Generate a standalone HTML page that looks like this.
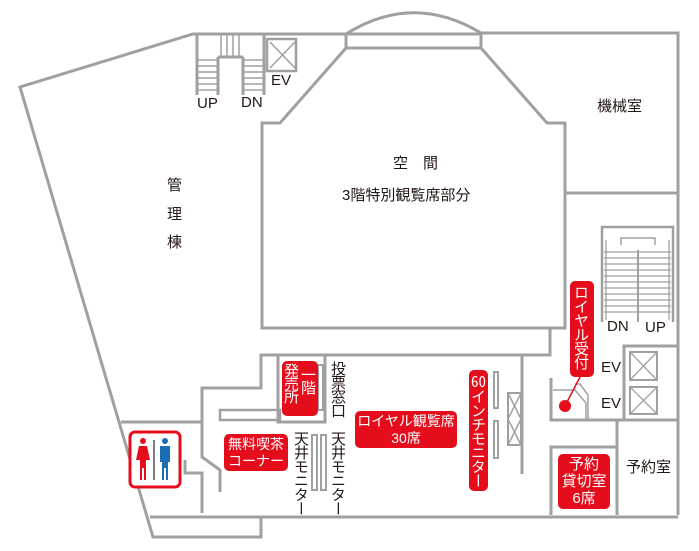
<!DOCTYPE html>
<html><head><meta charset="utf-8"><style>
body{margin:0;width:699px;height:551px;overflow:hidden;background:#fff;position:relative;font-family:"Liberation Sans","Noto Sans CJK JP",sans-serif;color:#231815}
svg{position:absolute;left:0;top:0}
.t{position:absolute;font-size:15px;line-height:1;white-space:nowrap}
.v{writing-mode:vertical-rl;text-orientation:upright;font-family:"Noto Sans CJK JP",sans-serif;font-size:15px;line-height:1;position:absolute;letter-spacing:-1px}
.r{position:absolute;background:#e50d1c;color:#fff;border-radius:5px;font-size:15px;line-height:17px;text-align:center;white-space:nowrap;font-family:"Liberation Sans","Noto Sans CJK JP",sans-serif}
.tcy{text-combine-upright:all}
</style></head><body>
<svg width="699" height="551" viewBox="0 0 699 551" fill="none" stroke="#a0a0a0" stroke-width="3">
<polyline points="346,34 193,34 20,87 153,537 261,537 261,517"/>
<line x1="150" y1="517" x2="678" y2="517"/>
<polyline points="121,422 202,422"/>
<polyline points="202,513 202,473 185,473 185,460"/>
<polyline points="220,492 220,470 202,457 202,388 261,388 261,355 550,355 550,328"/>
<rect x="220" y="410" width="60" height="10" stroke-width="2.5"/>
<rect x="278" y="355" width="47" height="67"/>
<rect x="318" y="365" width="5" height="45" stroke-width="2"/>
<rect x="312" y="435" width="5" height="55" stroke-width="2"/>
<rect x="321" y="435" width="5" height="55" stroke-width="2"/>
<line x1="522" y1="355" x2="522" y2="474"/>
<rect x="494" y="372" width="4" height="36" stroke-width="2"/>
<rect x="494" y="421" width="4" height="37" stroke-width="2"/>
<rect x="508" y="393" width="13" height="52" stroke-width="2"/>
<polyline points="508,393 521,419 508,445" stroke-width="1.5"/><polyline points="521,393 508,419 521,445" stroke-width="1.5"/>
<line x1="197" y1="34" x2="197" y2="95"/><line x1="218" y1="57" x2="218" y2="95"/>
<line x1="218" y1="57" x2="243" y2="57"/>
<line x1="243" y1="57" x2="243" y2="95"/><line x1="264" y1="34" x2="264" y2="95"/>
<g stroke-width="1.5"><line x1="221" y1="34" x2="221" y2="57"/><line x1="227" y1="34" x2="227" y2="57"/><line x1="233" y1="34" x2="233" y2="57"/><line x1="239" y1="34" x2="239" y2="57"/>
<line x1="197" y1="60" x2="218" y2="60"/><line x1="197" y1="66" x2="218" y2="66"/><line x1="197" y1="72" x2="218" y2="72"/><line x1="197" y1="78" x2="218" y2="78"/><line x1="197" y1="84" x2="218" y2="84"/><line x1="197" y1="90" x2="218" y2="90"/>
<line x1="243" y1="60" x2="264" y2="60"/><line x1="243" y1="66" x2="264" y2="66"/><line x1="243" y1="72" x2="264" y2="72"/><line x1="243" y1="78" x2="264" y2="78"/><line x1="243" y1="84" x2="264" y2="84"/><line x1="243" y1="90" x2="264" y2="90"/>
<line x1="270" y1="42" x2="295" y2="68"/><line x1="295" y1="42" x2="270" y2="68"/></g>
<rect x="267" y="39" width="29" height="32" stroke-width="2.5"/>
<path d="M346,34 Q413,-8 481,33"/>
<rect x="346" y="34" width="135" height="14"/>
<polyline points="346,48 280,123 262,123 262,328 565,328 565,123 547,123 481,48"/>
<polyline points="481,33 678,33 678,515"/>
<line x1="565" y1="193" x2="678" y2="193"/>
<polyline points="602,322 602,227 673,227 673,322" stroke-width="2.5"/>
<polyline points="621,245 621,238 655,238 655,245" stroke-width="1.5"/>
<line x1="638" y1="250" x2="638" y2="322" stroke-width="2"/>
<g stroke-width="1.3">
<line x1="604" y1="252" x2="671" y2="252"/><line x1="604" y1="258" x2="671" y2="258"/><line x1="604" y1="264" x2="671" y2="264"/><line x1="604" y1="270" x2="671" y2="270"/><line x1="604" y1="276" x2="671" y2="276"/><line x1="604" y1="282" x2="671" y2="282"/><line x1="604" y1="288" x2="671" y2="288"/><line x1="604" y1="294" x2="671" y2="294"/><line x1="604" y1="300" x2="671" y2="300"/><line x1="604" y1="306" x2="671" y2="306"/><line x1="604" y1="312" x2="671" y2="312"/>
<line x1="606" y1="240" x2="606" y2="320"/><line x1="669" y1="240" x2="669" y2="320"/></g>
<polyline points="624,420 624,346 678,346"/>
<rect x="630" y="352" width="27" height="28" stroke-width="2"/><rect x="630" y="387" width="27" height="27" stroke-width="2"/>
<g stroke-width="1.3"><line x1="630" y1="352" x2="657" y2="380"/><line x1="657" y1="352" x2="630" y2="380"/><line x1="630" y1="387" x2="657" y2="414"/><line x1="657" y1="387" x2="630" y2="414"/></g>
<polyline points="551,378 551,420 678,420"/>
<polyline points="553,390 575,390 586,403 586,420" stroke-width="1.5"/>
<polyline points="575,384 580,384 588,395 588,420" stroke-width="1.5"/>
<polyline points="617,420 617,515"/>
<polyline points="551,515 551,447 617,447"/>
<rect x="130" y="432" width="50" height="55" rx="5" stroke="#e50d1c" stroke-width="3" fill="#fff"/>
<line x1="154" y1="440" x2="154" y2="480" stroke="#555" stroke-width="1.5"/>
<g stroke="none"><circle cx="143" cy="441" r="3" fill="#e50d1c"/><path d="M139,446h8l3,14h-4v20h-2v-12h-2v12h-2v-20h-4z" fill="#e50d1c"/>
<circle cx="165" cy="441" r="3" fill="#1d6db5"/><path d="M160,446h10v16h-2v18h-2v-12h-2v12h-2v-18h-2z" fill="#1d6db5"/></g>
<line x1="580" y1="377" x2="566" y2="404" stroke="#e50d1c" stroke-width="1.5"/>
<circle cx="565" cy="406" r="6" fill="#e50d1c" stroke="none"/>
</svg>
<div class="t" style="left:197px;top:96px">UP</div>
<div class="t" style="left:241px;top:95px">DN</div>
<div class="t" style="left:271px;top:73px">EV</div>
<div class="t" style="left:393px;top:156px">空　間</div>
<div class="t" style="left:342px;top:188px">3階特別観覧席部分</div>
<div class="t" style="left:167px;top:178px">管</div>
<div class="t" style="left:167px;top:207px">理</div>
<div class="t" style="left:167px;top:235px">棟</div>
<div class="t" style="left:597px;top:99px">機械室</div>
<div class="t" style="left:607px;top:319px">DN</div>
<div class="t" style="left:645px;top:320px">UP</div>
<div class="t" style="left:601px;top:360px">EV</div>
<div class="t" style="left:601px;top:396px">EV</div>
<div class="t" style="left:626px;top:460px">予約室</div>
<div class="v" style="left:331px;top:361px">投票窓口</div>
<div class="v" style="left:294px;top:431px">天井モニター</div>
<div class="v" style="left:331px;top:431px">天井モニター</div>
<div class="r" style="left:282px;top:361px;width:36px;height:55px"><div class="v" style="position:absolute;right:2px;top:6px;letter-spacing:-2px">一階</div><div class="v" style="position:absolute;left:2px;top:2px;letter-spacing:-2px">発売所</div></div>
<div class="r" style="left:224px;top:434px;width:64px;height:37px;padding-top:2px;box-sizing:border-box;font-size:14px">無料喫茶<br>コーナー</div>
<div class="r" style="left:355px;top:411px;width:102px;height:37px;padding-top:2px;box-sizing:border-box;font-size:14px">ロイヤル観覧席<br>30席</div>
<div class="r" style="left:469px;top:370px;width:19px;height:121px"><div class="v" style="position:absolute;left:2px;top:4px;letter-spacing:-1px"><span class="tcy">60</span>インチモニター</div></div>
<div class="r" style="left:570px;top:281px;width:24px;height:96px"><div class="v" style="position:absolute;left:4px;top:4px;letter-spacing:-1px">ロイヤル受付</div></div>
<div class="r" style="left:558px;top:454px;width:52px;height:55px;padding-top:2px;box-sizing:border-box">予約<br>貸切室<br>6席</div>
</body></html>
